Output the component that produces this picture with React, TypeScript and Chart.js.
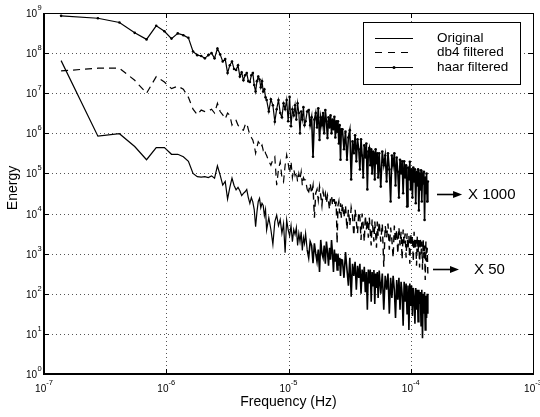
import React, { useEffect, useRef } from "react";
import { Chart, registerables } from "chart.js";

Chart.register(...registerables);

// Spectrum bin width (Hz) and the FFT bin indices that are plotted
const BIN_HZ = 1.38e-7;
const bins = [
  1, 2, 3, 4, 5, 6, 7, 8, 9, 10, 11, 12, 13, 14, 15, 16, 17, 18, 19, 20, 21, 22, 23, 24,
  25, 26, 27, 28, 29, 30, 31, 32, 33, 34, 35, 36, 37, 38, 39, 40, 41, 42, 43, 44, 45, 46, 47, 48,
  50, 52, 54, 56, 58, 60, 62, 64, 66, 68, 70, 72, 74, 76, 78, 80, 82, 84, 86, 88, 90, 92, 94, 96, 98,
  100, 103, 106, 109, 112, 115, 118, 121, 124, 127, 130, 133, 136, 139, 142, 145, 148, 151, 154,
  157, 160, 163, 166, 169, 172, 175, 178, 181, 184, 187, 190, 193, 196,
  200, 206, 212, 218, 224, 230, 236, 242, 248, 254, 260, 266, 272, 278, 284, 290, 296, 302, 308,
  314, 320, 326, 332, 338, 344, 350, 356, 362, 368, 374, 380, 386, 392,
  400, 412, 424, 436, 448, 460, 472, 484, 496, 508, 520, 532, 544, 556, 568, 580, 592, 604, 616,
  628, 640, 652, 664, 676, 688, 700, 712, 724, 736, 748, 760, 772, 784, 796, 808, 820, 832, 844,
  856, 868, 880, 892, 904, 916, 928, 940, 952, 964, 976, 988, 1000,
];

const original = [
  6.5e7, 8.5e5, 9.8e5, 4.7e5, 2.2e5, 4.4e5, 4.4e5, 3e5, 3e5, 2.6e5, 2e5, 1e5, 8.3e4, 8.1e4, 8.3e4,
  7.9e4, 8.7e4, 7.6e4, 1.55e5, 9.1e4, 5.1e4, 6.3e4, 2.3e4, 4.5e4,
  7.6e4, 5e4, 3.9e4, 4.5e4, 3.7e4, 2.8e4, 3.2e4, 3.5e4, 4e4, 2.5e4, 1.8e4, 2.5e4, 1.95e4, 1.26e4,
  4.7e3, 1.1e4, 2e4, 2.4e4, 1.4e4, 1.8e4, 1.6e4, 8.9e3, 1.26e4, 3.9e3,
  7.9e3, 4e3, 1.7e3, 6.3e3, 9.1e3, 5e3, 7.1e3, 3.2e3, 5.6e3, 1.05e3, 6.9e3, 4e3, 2.8e3, 5e3, 2e3,
  4e3, 3e3, 4.5e3, 1.6e3, 3.2e3, 2e3, 3.5e3, 1.2e3, 2.5e3, 1.8e3,
  3.2e3, 1.26e3, 7.9e2, 2e3, 1.6e3, 5.8e2, 1.8e3, 1e3, 6.3e2, 1.26e3, 3.5e2, 2.2e3, 1e3, 7.9e2,
  1.6e3, 5.6e2, 2e3, 1.1e3, 5e2, 1.4e3, 7.1e2, 2.2e3, 1e3, 3.5e2, 1.26e3, 6.3e2, 1e3, 3.9e2, 1e3,
  5e2, 7.9e2, 2.8e2, 7.1e2,
  6.9e2, 2.5e2, 1.1e3, 4e2, 1.6e2, 7.9e2, 85, 5.6e2, 2.8e2, 6.3e2, 1.26e2, 5e2, 2.5e2, 5.6e2, 100,
  4e2, 2e2, 4.7e2, 1.1e2, 3.5e2, 40, 4e2, 1.8e2, 4e2, 63, 3.5e2, 1.6e2, 3.9e2, 56, 3.2e2, 1.4e2,
  3.5e2, 79,
  3.8e2, 100, 3.2e2, 40, 2.8e2, 1.26e2, 3.2e2, 32, 2.5e2, 79, 2.8e2, 1.26e2, 25, 2.2e2, 71, 2.5e2,
  40, 2e2, 100, 16, 2e2, 63, 1.8e2, 32, 1.6e2, 12.6, 1.8e2, 50, 1.6e2, 28, 1.4e2, 79, 18, 1.4e2,
  40, 1.26e2, 20, 1.26e2, 56, 1.1e2, 16, 1.26e2, 7.8, 100, 32, 1.1e2, 12.6, 89, 25, 100, 32,
];

const db4 = [
  3.6e7, 4.2e7, 4.2e7, 2.1e7, 1e7, 2.6e7, 1.9e7, 1.3e7, 1.5e7, 1.26e7, 7.9e6, 4e6, 2.9e6, 3.8e6, 3.5e6,
  3.6e6, 4e6, 3.2e6, 5.6e6, 3.5e6, 2.9e6, 2.3e6, 3.2e6, 2.8e6,
  1.6e6, 2e6, 2.1e6, 1.6e6, 1.35e6, 1.26e6, 1.2e6, 1.6e6, 1.8e6, 1.26e6, 9.1e5, 7.9e5, 6.8e5, 5e5,
  3.2e5, 4.5e5, 6.2e5, 5.6e5, 4.5e5, 5.1e5, 3.8e5, 4.2e5, 3.2e5, 2.8e5,
  2e5, 1.6e5, 2.2e5, 2.6e5, 5.1e4, 1.26e5, 1.95e5, 7.9e4, 6.2e4, 1.6e5, 2.9e5, 1.8e5, 1e5, 2e5,
  7.9e4, 1.26e5, 8.9e4, 1.1e5, 6.2e4, 1e5, 7.1e4, 1.1e5, 5e4, 7.9e4, 6.9e4,
  6.9e4, 4e4, 3.5e4, 5.6e4, 3.2e4, 5e4, 7.9e3, 3.2e4, 4e4, 2.2e4, 4.7e4, 2.8e4, 1.6e4, 3.5e4, 2.5e4,
  3.2e4, 1.8e4, 2.8e4, 2e4, 1.26e4, 2.5e4, 2.8e4, 1.6e4, 2.2e4, 2.2e4, 1.4e4, 2e4, 1.8e3, 1.6e4,
  2e4, 1e4, 1.8e4, 7.9e3,
  1.8e4, 7.9e3, 1.6e4, 4e3, 1.26e4, 5e3, 1.4e4, 8.9e3, 2.8e3, 1.26e4, 6.3e3, 3.2e3, 1.1e4, 7.9e3,
  2.2e3, 1e4, 5e3, 2e3, 8.9e3, 4e3, 7.1e3, 2.5e3, 7.9e3, 3.5e3, 1.6e3, 7.1e3, 4e3, 2e3, 6.3e3,
  3.2e3, 1.4e3, 6.3e3, 2.8e3,
  6.3e3, 2e3, 5.6e3, 4.7e2, 5e3, 2.5e3, 5.6e3, 1.26e3, 4.5e3, 2.2e3, 7.9e2, 5e3, 2e3, 4e3, 1e3,
  4.5e3, 1.6e3, 3.5e3, 7.1e2, 4e3, 1.8e3, 3.2e3, 7.9e2, 3.2e3, 1.26e3, 2.8e3, 5.6e2, 3.2e3, 1.6e3,
  2.8e3, 6.3e2, 3.5e3, 1.26e3, 2.5e3, 5e2, 2.8e3, 1.1e3, 2.2e3, 4.5e2, 2.5e3, 1e3, 2e3, 4e2, 2.2e3,
  7.9e2, 1.6e3, 2.2e2, 2e3, 6.3e2, 1.4e3, 3.2e2,
];

const haar = [
  8.5e8, 7.4e8, 5.8e8, 3.2e8, 2.2e8, 4.8e8, 3.5e8, 2.3e8, 3.1e8, 2.8e8, 2.4e8, 1.1e8, 8.9e7, 8.5e7, 7.4e7,
  8.9e7, 1e8, 7.4e7, 1.3e8, 9.3e7, 6.2e7, 7.1e7, 3.2e7, 5e7,
  6.2e7, 4e7, 3.8e7, 5e7, 2.6e7, 3.3e7, 2.1e7, 2.8e7, 3.2e7, 2e7, 1.9e7, 2.8e7, 3.2e7, 1.6e7, 1.1e7,
  2e7, 2.6e7, 2.2e7, 1.4e7, 2e7, 1.1e7, 1.26e7, 7.9e6, 6.8e6,
  3.5e6, 7.1e6, 5e6, 1.95e6, 4e6, 6.8e6, 3.2e6, 2.5e6, 5.6e6, 4e6, 6.8e6, 2e6, 8.1e6, 1.5e6, 4e6,
  2.8e6, 5e6, 2.2e6, 5.6e6, 3.2e6, 1e6, 3.5e6, 2.2e6, 4.5e6, 1.6e6,
  2e6, 3.5e6, 3.8e6, 1.6e6, 2.5e6, 2.6e5, 2.2e6, 3.2e6, 1.4e6, 4.2e6, 6.8e5, 2.5e6, 1.6e6, 3.2e6,
  1e6, 3.8e6, 2e6, 7.6e5, 2.5e6, 1.4e6, 2.8e6, 1e6, 2.2e6, 1.26e6, 2.6e6, 7.9e5, 2e6, 1.1e6, 2e6,
  5.6e5, 1.6e6, 2.2e5, 1.26e6,
  1.26e6, 4e5, 1.1e6, 2.2e5, 7.9e5, 1.2e6, 7.1e4, 6.3e5, 3.2e5, 8.9e5, 2e5, 7.1e5, 4e5, 1.26e5,
  7.1e5, 2.8e5, 7.9e4, 5e5, 2.5e5, 5.6e5, 4e4, 3.5e5, 4.3e5, 1.6e5, 4e5, 1e5, 3.5e5, 2e5, 7.1e4,
  4e5, 1.8e5, 3.2e5, 7.9e4,
  3.2e5, 4.7e4, 3.5e5, 1.6e5, 2.8e5, 6.3e4, 3.2e5, 1.26e5, 2e4, 2.8e5, 1.6e5, 3.2e5, 5e4, 2.5e5,
  1.1e5, 2.5e4, 2.2e5, 1e5, 2e5, 3.2e4, 2e5, 7.9e4, 1.6e5, 1.5e4, 1.4e5, 7.1e4, 1.95e5, 4e4, 1.26e5,
  2.5e4, 1.4e5, 6.3e4, 1.26e5, 1.8e4, 1.1e5, 5e4, 1.26e5, 1.2e4, 1e5, 4e4, 1.2e5, 2e4, 1e5, 5.6e4,
  1.1e5, 6.9e3, 7.9e4, 3.2e4, 1e5, 2e4, 6.3e4,
];

const seriesLabels = ["Original", "db4 filtered", "haar filtered"];
const xTickValues = [1e-7, 1e-6, 1e-5, 1e-4, 1e-3];
const xTickExps = ["-7", "-6", "-5", "-4", "-3"];
const yTickValues = [1, 1e1, 1e2, 1e3, 1e4, 1e5, 1e6, 1e7, 1e8, 1e9];
const yTickExps = ["0", "1", "2", "3", "4", "5", "6", "7", "8", "9"];
const xTitle = "Frequency (Hz)";
const yTitle = "Energy";

// annotation arrows: [tailHz, headHz, textHz, energy, label]
const notes: [number, number, number, number, string][] = [
  [1.64e-4, 2.63e-4, 2.94e-4, 3.1e4, "X 1000"],
  [1.52e-4, 2.48e-4, 3.29e-4, 4.2e2, "X 50"],
];

// frequency above which the spectrum is drawn as a dense band
const DENSE_FROM_HZ = 1.4e-5;

const FONT = '"Liberation Sans", Arial, Helvetica, sans-serif';

const toPoints = (vals: number[]) => bins.map((k, i) => ({ x: k * BIN_HZ, y: vals[i] }));
const denseWidth = (thin: number, thick: number) => (c: any) =>
  c.p0.parsed.x >= DENSE_FROM_HZ ? thick : thin;

const framePlugin = {
  id: "matlabFrame",
  beforeDatasetsDraw(chart: any) {
    const { ctx, chartArea: a, scales } = chart;
    const sx = scales.x;
    const sy = scales.y;
    ctx.save();
    ctx.strokeStyle = "#555";
    ctx.lineWidth = 1;
    ctx.setLineDash([1, 3]);
    xTickValues.slice(1, -1).forEach((v) => {
      const px = Math.round(sx.getPixelForValue(v)) + 0.5;
      ctx.beginPath();
      ctx.moveTo(px, a.top);
      ctx.lineTo(px, a.bottom);
      ctx.stroke();
    });
    yTickValues.slice(1, -1).forEach((v) => {
      const py = Math.round(sy.getPixelForValue(v)) + 0.5;
      ctx.beginPath();
      ctx.moveTo(a.left, py);
      ctx.lineTo(a.right, py);
      ctx.stroke();
    });
    ctx.restore();
  },
  afterDatasetsDraw(chart: any) {
    const { ctx, chartArea: a, scales } = chart;
    const sx = scales.x;
    const sy = scales.y;
    const L = Math.round(a.left);
    const R = Math.round(a.right);
    const T = Math.round(a.top);
    const B = Math.round(a.bottom);
    ctx.save();
    ctx.fillStyle = "#000";
    // box
    ctx.fillRect(L - 1, T, 2, B - T + 1);
    ctx.fillRect(L - 1, B - 1, R - L + 2, 2);
    ctx.fillRect(L, T, R - L + 1, 1);
    ctx.fillRect(R, T, 1, B - T);
    // ticks
    xTickValues.slice(1, -1).forEach((v) => {
      const px = Math.round(sx.getPixelForValue(v));
      ctx.fillRect(px, B - 5, 1, 5);
      ctx.fillRect(px, T, 1, 5);
    });
    yTickValues.slice(1, -1).forEach((v) => {
      const py = Math.round(sy.getPixelForValue(v));
      ctx.fillRect(L, py, 5, 1);
      ctx.fillRect(R - 5, py, 5, 1);
    });
    // tick labels
    ctx.textBaseline = "alphabetic";
    xTickValues.forEach((v, i) => {
      const px = sx.getPixelForValue(v);
      ctx.font = `10px ${FONT}`;
      const w1 = ctx.measureText("10").width;
      ctx.font = `7.5px ${FONT}`;
      const w2 = ctx.measureText(xTickExps[i]).width;
      const start = px - (w1 + w2) / 2;
      ctx.font = `10px ${FONT}`;
      ctx.textAlign = "left";
      ctx.fillText("10", start, B + 18);
      ctx.font = `7.5px ${FONT}`;
      ctx.fillText(xTickExps[i], start + w1, B + 11);
    });
    yTickValues.forEach((v, i) => {
      const py = sy.getPixelForValue(v);
      ctx.font = `10px ${FONT}`;
      ctx.textAlign = "right";
      ctx.fillText("10", L - 7, py + 4);
      ctx.font = `7.5px ${FONT}`;
      ctx.textAlign = "left";
      ctx.fillText(yTickExps[i], L - 6.5, py - 3);
    });
    // axis titles
    ctx.font = `14px ${FONT}`;
    ctx.textAlign = "center";
    ctx.fillText(xTitle, (a.left + a.right) / 2, B + 31.5);
    ctx.save();
    ctx.translate(17, 188);
    ctx.rotate(-Math.PI / 2);
    ctx.fillText(yTitle, 0, 0);
    ctx.restore();

    // legend
    const bx = R - 170;
    const by = T + 9;
    const bw = 157;
    const bh = 62;
    ctx.fillStyle = "#fff";
    ctx.fillRect(bx, by, bw, bh);
    ctx.strokeStyle = "#000";
    ctx.lineWidth = 1;
    ctx.strokeRect(bx + 0.5, by + 0.5, bw, bh);
    const rows = [16, 30, 45];
    ctx.fillStyle = "#000";
    ctx.font = `13.5px ${FONT}`;
    ctx.textAlign = "left";
    ctx.textBaseline = "middle";
    seriesLabels.forEach((lab, i) => {
      const yy = by + rows[i] + 0.5;
      ctx.setLineDash(i === 1 ? [7, 6] : []);
      ctx.beginPath();
      ctx.moveTo(bx + 12, yy);
      ctx.lineTo(bx + 50, yy);
      ctx.stroke();
      ctx.setLineDash([]);
      if (i === 2) {
        ctx.beginPath();
        ctx.arc(bx + 31, yy, 1.5, 0, Math.PI * 2);
        ctx.fill();
      }
      ctx.fillText(lab, bx + 74, yy);
    });

    // annotations
    ctx.font = `15px ${FONT}`;
    notes.forEach(([tail, head, tx, e, lab]) => {
      const x0 = sx.getPixelForValue(tail);
      const x1 = sx.getPixelForValue(head);
      const yy = Math.round(sy.getPixelForValue(e)) + 0.5;
      ctx.lineWidth = 1.6;
      ctx.beginPath();
      ctx.moveTo(x0, yy);
      ctx.lineTo(x1 - 6, yy);
      ctx.stroke();
      ctx.beginPath();
      ctx.moveTo(x1, yy);
      ctx.lineTo(x1 - 9, yy - 3.5);
      ctx.lineTo(x1 - 9, yy + 3.5);
      ctx.closePath();
      ctx.fill();
      ctx.textBaseline = "middle";
      ctx.fillText(lab, sx.getPixelForValue(tx), yy + 0.5);
    });
    ctx.restore();
  },
};

export default function App() {
  const ref = useRef<HTMLCanvasElement | null>(null);
  useEffect(() => {
    if (!ref.current) return;
    const chart = new Chart(ref.current, {
      type: "line",
      data: {
        datasets: [
          {
            label: seriesLabels[0],
            data: toPoints(original),
            borderColor: "#000",
            borderWidth: 1.2,
            segment: { borderWidth: denseWidth(1.2, 1.6) },
            pointRadius: 0,
            fill: false,
            tension: 0,
          },
          {
            label: seriesLabels[1],
            data: toPoints(db4),
            borderColor: "#000",
            borderWidth: 1.2,
            segment: { borderWidth: denseWidth(1.2, 1.4) },
            borderDash: [7, 5],
            pointRadius: 0,
            fill: false,
            tension: 0,
          },
          {
            label: seriesLabels[2],
            data: toPoints(haar),
            borderColor: "#000",
            borderWidth: 1.2,
            segment: { borderWidth: denseWidth(1.2, 1.6) },
            pointRadius: 1.3,
            pointBorderWidth: 0,
            pointBackgroundColor: "#000",
            fill: false,
            tension: 0,
          },
        ],
      },
      options: {
        animation: false,
        responsive: false,
        maintainAspectRatio: false,
        events: [],
        layout: { padding: { left: 44, right: 7, top: 13, bottom: 43 } },
        plugins: { legend: { display: false }, tooltip: { enabled: false } },
        scales: {
          x: { type: "logarithmic", min: 1e-7, max: 1e-3, display: false },
          y: { type: "logarithmic", min: 1, max: 1e9, display: false },
        },
      },
      plugins: [framePlugin],
    } as any);
    return () => chart.destroy();
  }, []);
  return (
    <div style={{ position: "fixed", left: 0, top: 0, width: 540, height: 417, background: "#fff" }}>
      <canvas ref={ref} width={540} height={417} style={{ width: 540, height: 417, display: "block" }} />
    </div>
  );
}
